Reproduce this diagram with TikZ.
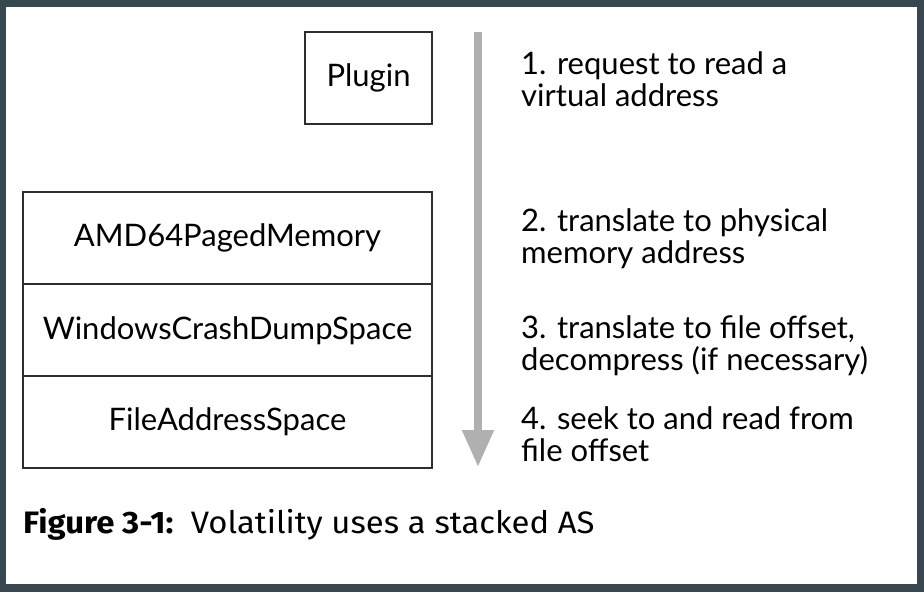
\documentclass[tikz,border=0pt]{standalone}
\usepackage{fontspec}
\setmainfont{Lato}
\newfontfamily\capfont[FakeStretch=1.06]{Fira Sans}
\usetikzlibrary{arrows.meta}
\definecolor{frame}{RGB}{55,71,79}
\definecolor{boxline}{RGB}{45,45,45}
\definecolor{flow}{RGB}{176,176,176}
\tikzset{
  layer/.style={draw=boxline,line width=1.5pt,fill=white,inner sep=0pt,
    minimum width=409pt,minimum height=92pt,font=\fontsize{31}{34}\selectfont},
  step text/.style={anchor=west,align=left,inner sep=0pt,
    font=\fontsize{31}{32}\selectfont},
}
\begin{document}
\begin{tikzpicture}[x=1pt,y=-1pt]

\fill[frame] (0,0) rectangle (924,592);
\fill[white] (6,7) rectangle (917,584);

\node[layer,minimum width=127pt] (plugin) at (368.5,78) {Plugin};

\node[layer] (amd) at (227.5,238) {AMD64PagedMemory};
\node[layer] (crash) at (227.5,330.5) {WindowsCrashDumpSpace};
\node[layer] (file) at (227.5,422) {FileAddressSpace};

\coordinate (from) at (478,32);
\coordinate (to) at (478,467);
\draw[flow,line width=8pt,-{Triangle[width=30pt,length=37pt]}] (from) -- (to);

\node[step text] (s1) at (521,79) {1. request to read a\\virtual address};
\node[step text] (s2) at (521,239) {2. translate to physical\\memory address};
\node[step text] (s3) at (521,346) {3. translate to file offset,\\decompress (if necessary)};
\node[step text] (s4) at (521,434) {4. seek to and read from\\file offset};

\node[anchor=base west,inner sep=0pt,font=\capfont\fontsize{31}{34}\selectfont] (caption) at (23,533)
  {\textbf{Figure 3-1:}\ \ Volatility uses a stacked AS};

\end{tikzpicture}
\end{document}
